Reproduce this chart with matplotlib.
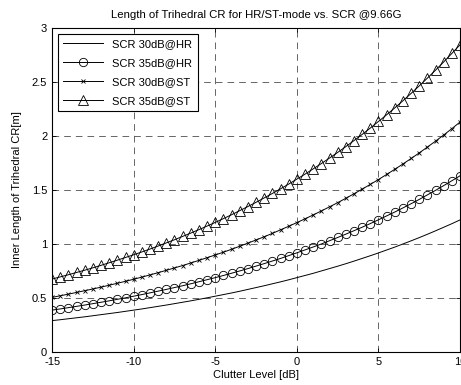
import matplotlib.pyplot as plt
import numpy as np

plt.rcParams['font.family'] = ['Liberation Sans', 'DejaVu Sans']
plt.rcParams['axes.unicode_minus'] = False

# clutter level axis, 0.5 dB steps
clutter = np.arange(-15, 10.5, 0.5)

hr30 = [0.290, 0.298, 0.307, 0.316, 0.325, 0.335, 0.345, 0.355, 0.365, 0.376,
        0.387, 0.398, 0.410, 0.422, 0.434, 0.447, 0.460, 0.473, 0.487, 0.501,
        0.516, 0.531, 0.546, 0.562, 0.579, 0.596, 0.613, 0.631, 0.649, 0.668,
        0.688, 0.708, 0.728, 0.750, 0.772, 0.794, 0.817, 0.841, 0.866, 0.891,
        0.917, 0.944, 0.971, 1.000, 1.029, 1.059, 1.090, 1.122, 1.155, 1.188,
        1.223]
hr35 = [0.387, 0.398, 0.410, 0.422, 0.434, 0.447, 0.460, 0.473, 0.487, 0.501,
        0.516, 0.531, 0.547, 0.563, 0.579, 0.596, 0.613, 0.631, 0.650, 0.669,
        0.688, 0.708, 0.729, 0.750, 0.772, 0.795, 0.818, 0.842, 0.866, 0.892,
        0.918, 0.945, 0.972, 1.000, 1.030, 1.060, 1.091, 1.123, 1.155, 1.189,
        1.224, 1.260, 1.296, 1.334, 1.373, 1.413, 1.455, 1.497, 1.541, 1.586,
        1.632]
st30 = [0.505, 0.520, 0.535, 0.551, 0.567, 0.583, 0.600, 0.618, 0.636, 0.654,
        0.673, 0.693, 0.713, 0.734, 0.756, 0.778, 0.800, 0.824, 0.848, 0.873,
        0.898, 0.924, 0.951, 0.979, 1.008, 1.037, 1.067, 1.098, 1.131, 1.164,
        1.198, 1.233, 1.269, 1.306, 1.344, 1.383, 1.423, 1.465, 1.508, 1.552,
        1.597, 1.644, 1.692, 1.741, 1.792, 1.844, 1.898, 1.953, 2.010, 2.069,
        2.130]
st35 = [0.675, 0.695, 0.715, 0.736, 0.757, 0.779, 0.802, 0.826, 0.850, 0.875,
        0.900, 0.926, 0.953, 0.981, 1.010, 1.039, 1.070, 1.101, 1.133, 1.166,
        1.200, 1.235, 1.271, 1.309, 1.347, 1.386, 1.427, 1.468, 1.511, 1.555,
        1.601, 1.647, 1.696, 1.745, 1.796, 1.848, 1.902, 1.958, 2.015, 2.074,
        2.135, 2.197, 2.261, 2.327, 2.395, 2.465, 2.537, 2.611, 2.687, 2.766,
        2.846]

labels = ['SCR 30dB@HR', 'SCR 35dB@HR', 'SCR 30dB@ST', 'SCR 35dB@ST']

fig = plt.figure(figsize=(4.61, 3.85), dpi=100)
ax = fig.add_axes([0.113, 0.086, 0.885, 0.841])

ax.plot(clutter, hr30, '-', color='k', lw=0.7, label=labels[0])
ax.plot(clutter, hr35, '-o', color='k', lw=0.7, ms=6, mfc='none', mew=0.6, label=labels[1])
ax.plot(clutter, st30, '-x', color='k', lw=0.7, ms=3.5, mew=0.6, label=labels[2])
ax.plot(clutter, st35, '-^', color='k', lw=0.7, ms=6.5, mfc='none', mew=0.6, label=labels[3])

ax.set_xlim(-15, 10)
ax.set_ylim(0, 3)
ax.set_xticks([-15, -10, -5, 0, 5, 10])
ax.set_yticks([0, 0.5, 1, 1.5, 2, 2.5, 3])
ax.set_yticklabels(['0', '0.5', '1', '1.5', '2', '2.5', '3'])
ax.tick_params(direction='in', labelsize=8, length=3, width=0.6, top=True, right=True)
ax.grid(True, color='0.3', linestyle=(0, (8, 6)), lw=0.6)
for s in ax.spines.values():
    s.set_linewidth(0.8)

ax.set_title('Length of Trihedral CR for HR/ST-mode vs. SCR @9.66G', fontsize=8.2, pad=7)
ax.set_xlabel('Clutter Level [dB]', fontsize=8, labelpad=2)
ax.set_ylabel('Inner Length of Trihedral CR[m]', fontsize=8, labelpad=7)

leg = ax.legend(loc='upper left', fontsize=8, handlelength=3.6, fancybox=False,
                framealpha=1, edgecolor='k', borderaxespad=0.5, labelspacing=0.8,
                borderpad=0.5)
leg.get_frame().set_linewidth(0.8)

fig.savefig('out.png', dpi=100)
